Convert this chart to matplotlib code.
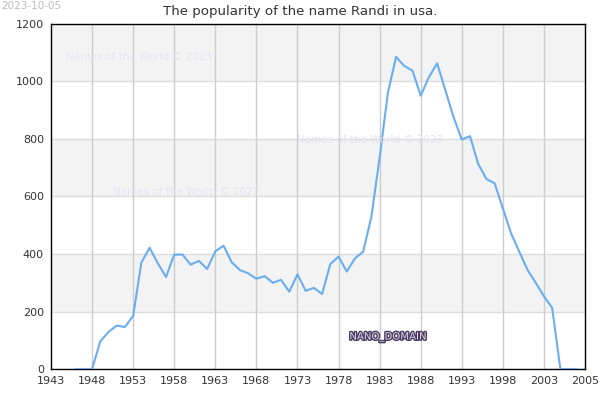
import matplotlib
matplotlib.use("Agg")
import matplotlib.pyplot as plt
import matplotlib.patheffects as pe

years = list(range(1946, 2008))
counts = [0, 0, 0, 96, 129, 151, 146, 185, 370, 422, 368, 320, 398, 398, 363, 376,
          348, 409, 429, 371, 344, 333, 314, 323, 300, 310, 269, 329, 272, 282, 261,
          365, 391, 339, 385, 408, 530, 735, 959, 1086, 1054, 1038, 951, 1015, 1063,
          970, 876, 798, 810, 713, 661, 646, 559, 472, 408, 345, 300, 253, 213, 0, 0, 0]
tick_pos = [1943, 1948, 1953, 1958, 1963, 1968, 1973, 1978, 1983, 1988, 1993, 1998, 2003, 2008]
tick_labels = ["1943", "1948", "1953", "1958", "1963", "1968", "1973", "1978", "1983",
               "1988", "1993", "1998", "2003", "2005"]
y_ticks = [0, 200, 400, 600, 800, 1000, 1200]

fig = plt.figure(figsize=(6, 4), dpi=100)
ax = fig.add_axes([51/600, 31/400, 534/600, 345/400])
ax.set_xlim(1943, 2008)
ax.set_ylim(0, 1200)

for lo in (200, 600, 1000):
    ax.axhspan(lo, lo + 200, color="#f3f3f3", zorder=0, lw=0)
for y in y_ticks:
    ax.axhline(y, color="#dddddd", lw=1, zorder=1)
for x in tick_pos[1:-1]:
    ax.axvline(x, color="#cccccc", lw=1, zorder=1)

ax.plot(years, counts, color="#6aaef0", lw=1.5, zorder=3)

ax.set_xticks(tick_pos)
ax.set_xticklabels(tick_labels)
ax.set_yticks(y_ticks)
ax.tick_params(length=0, labelsize=8, colors="#333333", pad=5)
for s in ax.spines.values():
    s.set_color("black")
    s.set_linewidth(1)

fig.text(0.5, 1 - 11/400, "The popularity of the name Randi in usa.", fontsize=9.6,
         color="#333333", ha="center", va="center")
fig.text(0.002, 0.998, "2023-10-05", fontsize=7.5, color="#bbbbbb", ha="left", va="top")

wm = dict(fontsize=7.5, color="#e4e4f4", zorder=2, va="center", ha="left")
fig.text(66/600, 1 - 57/400, "Names of the World © 2023", **wm)
fig.text(113/600, 1 - 192/400, "Names of the World © 2023", **wm)
fig.text(297/600, 1 - 140/400, "Names of the World © 2023", **wm)

fig.text(388/600, 1 - 337/400, "NANO_DOMAIN", fontsize=7.3, color="#e0d6ec", ha="center",
         va="center", path_effects=[pe.Stroke(linewidth=2, foreground="#4a3a5c"), pe.Normal()])

fig.savefig("out.png", dpi=100)
